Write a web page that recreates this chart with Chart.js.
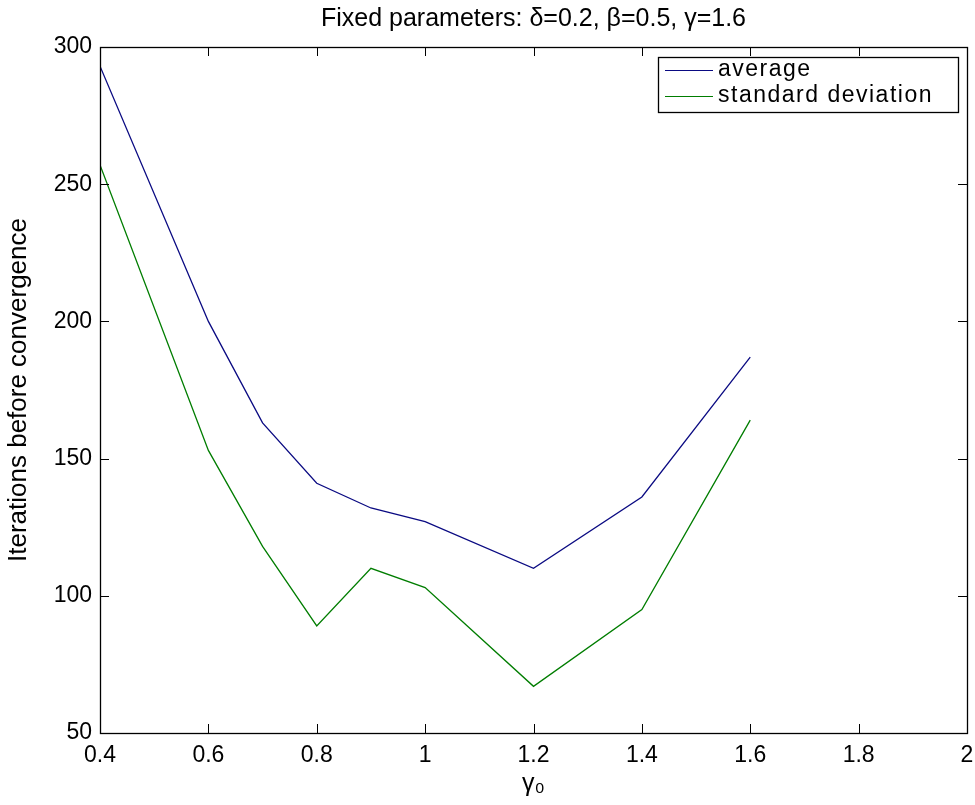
<!DOCTYPE html>
<html>
<head>
<meta charset="utf-8">
<title>Iterations before convergence</title>
<script src="https://cdn.jsdelivr.net/npm/chart.js@4.4.1/dist/chart.umd.min.js"></script>
<style>
  html, body { margin: 0; padding: 0; background: #fff; }
  #wrap { width: 975px; height: 805px; }
</style>
</head>
<body>
<div id="wrap"><canvas id="myChart" width="975" height="805"></canvas></div>
<script>
const gamma0 = [0.4, 0.6, 0.7, 0.8, 0.9, 1.0, 1.2, 1.4, 1.6];
const average = [293, 200, 163, 141, 132, 127, 110, 136, 187];
const stdDev = [257, 153, 118, 89, 110, 103, 67, 95, 164];
const xTicks = [0.4, 0.6, 0.8, 1, 1.2, 1.4, 1.6, 1.8, 2];
const yTicks = [50, 100, 150, 200, 250, 300];

const toPoints = (ys) => gamma0.map((x, i) => ({ x: x, y: ys[i] }));
const FONT = "'Liberation Sans', Arial, sans-serif";

// box round the plot with ticks pointing inwards, on all four sides
const boxTicks = {
    id: "boxTicks",
    afterDraw(chart) {
        const c = chart.ctx, a = chart.chartArea;
        const sx = chart.scales.x, sy = chart.scales.y;
        const len = 9;
        c.save();
        c.strokeStyle = "#000";
        c.lineWidth = 1;
        c.beginPath();
        xTicks.forEach(v => {
            const px = Math.round(sx.getPixelForValue(v)) + 0.5;
            c.moveTo(px, a.bottom); c.lineTo(px, a.bottom - len);
            c.moveTo(px, a.top); c.lineTo(px, a.top + len);
        });
        yTicks.forEach(v => {
            const py = Math.round(sy.getPixelForValue(v)) + 0.5;
            c.moveTo(a.left, py); c.lineTo(a.left + len, py);
            c.moveTo(a.right, py); c.lineTo(a.right - len, py);
        });
        c.stroke();
        c.lineWidth = 1.3;
        c.strokeRect(Math.round(a.left) + 0.5, Math.round(a.top) + 0.5,
            Math.round(a.right - a.left), Math.round(a.bottom - a.top));
        c.restore();
    }
};

// legend box in the top right corner of the plot
const boxLegend = {
    id: "boxLegend",
    afterDraw(chart) {
        const c = chart.ctx, a = chart.chartArea;
        const w = 300, h = 55;
        const x0 = a.right - 9 - w, y0 = a.top + 10;
        c.save();
        c.fillStyle = "#fff";
        c.fillRect(x0, y0, w, h);
        c.strokeStyle = "#000";
        c.lineWidth = 1.3;
        c.strokeRect(x0 + 0.5, y0 + 0.5, w, h);
        c.font = "23px " + FONT;
        c.letterSpacing = "1.5px";
        c.textBaseline = "middle";
        chart.data.datasets.forEach((ds, i) => {
            const y = y0 + 13 + i * 26;
            c.strokeStyle = ds.borderColor;
            c.lineWidth = 1.2;
            c.beginPath();
            c.moveTo(x0 + 7, y + 0.5);
            c.lineTo(x0 + 55, y + 0.5);
            c.stroke();
            c.fillStyle = "#000";
            c.fillText(ds.label, x0 + 60, y);
        });
        c.restore();
    }
};

const ctx = document.getElementById("myChart");

new Chart(ctx, {
    type: "line",
    data: {
        datasets: [{
            label: "average",
            data: toPoints(average),
            borderColor: "rgb(10, 10, 130)",
            borderWidth: 1.3,
            pointRadius: 0,
            tension: 0,
        }, {
            label: "standard deviation",
            data: toPoints(stdDev),
            borderColor: "rgb(0, 125, 0)",
            borderWidth: 1.3,
            pointRadius: 0,
            tension: 0,
        }, ],
    },
    options: {
        responsive: false,
        animation: false,
        layout: {
            padding: { left: 0, right: 8, top: 0, bottom: 0 },
        },
        plugins: {
            legend: { display: false },
            tooltip: { enabled: false },
            title: {
                display: true,
                fullSize: false,
                text: "Fixed parameters: δ=0.2, β=0.5, γ=1.6",
                color: "#000",
                font: { family: FONT, size: 25, weight: "normal" },
                padding: { top: 4, bottom: 13 },
            },
        },
        scales: {
            x: {
                type: "linear",
                min: 0.4,
                max: 2,
                afterBuildTicks: (s) => { s.ticks = xTicks.map(v => ({ value: v })); },
                afterFit: (s) => {
                    s.height = 72;
                    // the "2" label may hang past the box, as in MATLAB
                    s.paddingLeft = 0;
                    s.paddingRight = 0;
                },
                grid: { display: false, drawTicks: false },
                border: { display: false },
                ticks: {
                    color: "#000",
                    padding: 9,
                    maxRotation: 0,
                    font: { family: FONT, size: 23 },
                    callback: (v) => String(Math.round(v * 10) / 10),
                },
                title: {
                    display: true,
                    text: "γ₀",
                    color: "#000",
                    font: { family: FONT, size: 25 },
                    padding: { top: 4, bottom: 6 },
                },
            },
            y: {
                min: 50,
                max: 300,
                afterBuildTicks: (s) => { s.ticks = yTicks.map(v => ({ value: v })); },
                afterFit: (s) => { s.width = 100; },
                grid: { display: false, drawTicks: false },
                border: { display: false },
                ticks: {
                    color: "#000",
                    padding: 8,
                    font: { family: FONT, size: 23 },
                },
                title: {
                    display: true,
                    text: "Iterations before convergence",
                    color: "#000",
                    font: { family: FONT, size: 26 },
                    padding: { top: 3, bottom: 4 },
                },
            },
        },
    },
    plugins: [boxTicks, boxLegend],
});
</script>
</body>
</html>
